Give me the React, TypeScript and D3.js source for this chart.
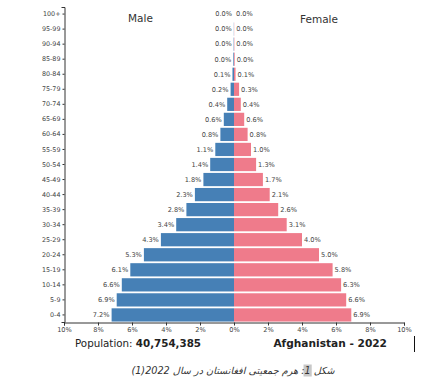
import React, { useEffect, useRef } from "react";
import * as d3 from "d3";

const ageGroups = ["100+", "95-99", "90-94", "85-89", "80-84", "75-79", "70-74", "65-69", "60-64", "55-59", "50-54", "45-49", "40-44", "35-39", "30-34", "25-29", "20-24", "15-19", "10-14", "5-9", "0-4"];
const maleValues = [0.0, 0.01, 0.02, 0.04, 0.09, 0.2, 0.4, 0.6, 0.8, 1.1, 1.4, 1.8, 2.3, 2.8, 3.4, 4.3, 5.3, 6.1, 6.6, 6.9, 7.2];
const femaleValues = [0.0, 0.01, 0.02, 0.04, 0.09, 0.3, 0.4, 0.6, 0.8, 1.0, 1.3, 1.7, 2.1, 2.6, 3.1, 4.0, 5.0, 5.8, 6.3, 6.6, 6.9];
const xTicks = [-10, -8, -6, -4, -2, 0, 2, 4, 6, 8, 10];
const populationLabel = "Population: ";
const populationValue = "40,754,385";
const countryTitle = "Afghanistan - 2022";
const captionText = "شکل 1: هرم جمعیتی افغانستان در سال 2022(1)";

const MALE = "#4680b6";
const FEMALE = "#ef7b8b";
const FONT = "DejaVu Sans, sans-serif";

export default function App() {
  const ref = useRef<SVGSVGElement>(null);

  useEffect(() => {
    const svg = d3.select(ref.current);
    svg.selectAll("*").remove();

    const x = d3.scaleLinear().domain([-10, 10]).range([64, 404]);
    const y = d3.scaleBand().domain(ageGroups).range([7, 322]).paddingInner(0.12).paddingOuter(0.03);

    const rows = ageGroups.map((a, i) => ({ age: a, m: maleValues[i], f: femaleValues[i] }));

    const g = svg.append("g");
    g.selectAll("rect.m").data(rows).enter().append("rect")
      .attr("x", d => x(-d.m)).attr("width", d => x(0) - x(-d.m))
      .attr("y", d => y(d.age)!).attr("height", y.bandwidth()).attr("fill", MALE);
    g.selectAll("rect.f").data(rows).enter().append("rect")
      .attr("x", x(0)).attr("width", d => x(d.f) - x(0))
      .attr("y", d => y(d.age)!).attr("height", y.bandwidth()).attr("fill", FEMALE);

    g.selectAll("text.ml").data(rows).enter().append("text")
      .attr("x", d => x(-d.m) - 2).attr("y", d => y(d.age)! + y.bandwidth() / 2)
      .attr("dy", "0.35em").attr("text-anchor", "end")
      .attr("font-size", 6.6).attr("font-family", FONT).attr("fill", "#444")
      .text(d => d.m.toFixed(1) + "%");
    g.selectAll("text.fl").data(rows).enter().append("text")
      .attr("x", d => x(d.f) + 2).attr("y", d => y(d.age)! + y.bandwidth() / 2)
      .attr("dy", "0.35em").attr("text-anchor", "start")
      .attr("font-size", 6.6).attr("font-family", FONT).attr("fill", "#444")
      .text(d => d.f.toFixed(1) + "%");

    const yAxis = svg.append("g").attr("transform", "translate(64.5,0)")
      .call(d3.axisLeft(y).tickSizeInner(2).tickSizeOuter(3).tickPadding(2));
    yAxis.selectAll("text").attr("font-size", 6.4).attr("font-family", FONT).attr("fill", "#444");
    yAxis.selectAll("line, path").attr("stroke", "#333");

    const xAxis = svg.append("g").attr("transform", "translate(0,322.5)")
      .call(d3.axisBottom(x).tickValues(xTicks).tickSizeInner(3).tickSizeOuter(3).tickPadding(1.5)
        .tickFormat(d => Math.abs(d as number) + "%"));
    xAxis.selectAll("text").attr("font-size", 6.6).attr("font-family", FONT).attr("fill", "#444");
    xAxis.selectAll("line, path").attr("stroke", "#333");

    svg.append("text").attr("x", 140.5).attr("y", 22).attr("text-anchor", "middle")
      .attr("font-size", 10.5).attr("font-family", FONT).attr("fill", "#333").text("Male");
    svg.append("text").attr("x", 319).attr("y", 23).attr("text-anchor", "middle")
      .attr("font-size", 10.5).attr("font-family", FONT).attr("fill", "#333").text("Female");

    const pop = svg.append("text").attr("x", 75).attr("y", 347)
      .attr("font-size", 10.3).attr("font-family", FONT).attr("fill", "#222");
    pop.append("tspan").text(populationLabel);
    pop.append("tspan").attr("font-weight", "bold").text(populationValue);

    svg.append("text").attr("x", 387).attr("y", 347).attr("text-anchor", "end")
      .attr("font-size", 10.6).attr("font-weight", "bold").attr("font-family", FONT).attr("fill", "#222")
      .text(countryTitle);

    svg.append("line").attr("x1", 414.5).attr("x2", 414.5).attr("y1", 336).attr("y2", 352)
      .attr("stroke", "#111").attr("stroke-width", 1);

    const cap = svg.append("text").attr("class", "caption").attr("x", 233).attr("y", 374).attr("text-anchor", "middle")
      .attr("direction", "rtl").attr("font-style", "italic")
      .attr("font-size", 9.7).attr("font-family", FONT).attr("fill", "#333")
      .text(captionText);
    try {
      const node = cap.node() as SVGTextElement;
      const idx = captionText.indexOf("1");
      const ext = node.getExtentOfChar(idx);
      svg.insert("rect", "text.caption")
        .attr("x", ext.x - 1).attr("y", 364.5).attr("width", ext.width + 2).attr("height", 12)
        .attr("fill", "#c8c8c8");
    } catch (e) {
      // ignore
    }
  }, []);

  return (
    <svg ref={ref} width={443} height={383}
      style={{ position: "absolute", left: 0, top: 0, background: "#fff" }} />
  );
}
